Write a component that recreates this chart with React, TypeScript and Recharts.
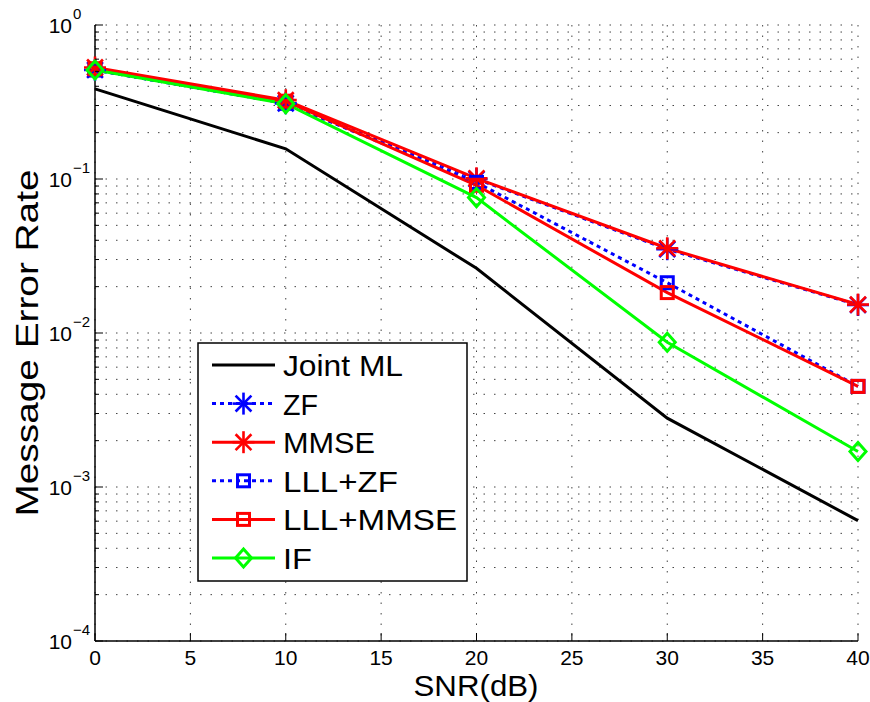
import { LineChart, Line, XAxis, YAxis, CartesianGrid } from 'recharts'

const snr = [0, 10, 20, 30, 40]
const jointML = [0.385, 0.157, 0.0263, 0.0028, 0.000605]
const zf = [0.51, 0.31, 0.1, 0.035, 0.0152]
const mmse = [0.53, 0.325, 0.101, 0.0355, 0.0153]
const lllZf = [0.51, 0.31, 0.095, 0.0212, 0.0045]
const lllMmse = [0.52, 0.32, 0.091, 0.0183, 0.0045]
const intForcing = [0.51, 0.308, 0.0757, 0.0087, 0.0017]

const xTicks = [0, 5, 10, 15, 20, 25, 30, 35, 40]
const decades = [-4, -3, -2, -1, 0]

// log ticks: decades plus 2..9 subdivisions
const yTicks: number[] = []
decades.forEach((e) => {
  yTicks.push(Number(Math.pow(10, e).toPrecision(1)))
  if (e < 0) for (let m = 2; m <= 9; m++) yTicks.push(Number((m * Math.pow(10, e)).toPrecision(1)))
})
yTicks.sort((a, b) => a - b)

const data = snr.map((s, i) => ({
  snr: s,
  jointML: jointML[i],
  zf: zf[i],
  mmse: mmse[i],
  lllZf: lllZf[i],
  lllMmse: lllMmse[i],
  intForcing: intForcing[i],
}))

const FONT = '"Liberation Sans", Arial, Helvetica, sans-serif'
const BLUE = '#0000ff'
const RED = '#ff0000'
const GREEN = '#00ff00'
const DOTTED = '4 4'

const isDecade = (v: number) => Math.abs(Math.log10(v) - Math.round(Math.log10(v))) < 1e-9

function Star({ cx, cy, color }: { cx: number; cy: number; color: string }) {
  const r = 11
  const d = r * 0.72
  return (
    <g stroke={color} strokeWidth={2.6} fill="none">
      <line x1={cx - r} y1={cy} x2={cx + r} y2={cy} />
      <line x1={cx} y1={cy - r} x2={cx} y2={cy + r} />
      <line x1={cx - d} y1={cy - d} x2={cx + d} y2={cy + d} />
      <line x1={cx - d} y1={cy + d} x2={cx + d} y2={cy - d} />
    </g>
  )
}

function Square({ cx, cy, color }: { cx: number; cy: number; color: string }) {
  return <rect x={cx - 6} y={cy - 6} width={12} height={12} stroke={color} strokeWidth={3} fill="none" />
}

function Diamond({ cx, cy, color }: { cx: number; cy: number; color: string }) {
  const r = 8
  return (
    <path
      d={`M${cx},${cy - r - 1}L${cx + r},${cy}L${cx},${cy + r + 1}L${cx - r},${cy}Z`}
      stroke={color}
      strokeWidth={3}
      fill="none"
    />
  )
}

const leftTick = (p: any) => {
  const { x, y, payload } = p
  const v = payload.value
  const major = isDecade(v)
  const exp = Math.round(Math.log10(v))
  return (
    <g>
      <line x1={x} y1={y} x2={x + (major ? 8 : 4)} y2={y} stroke="#000" strokeWidth={1} />
      {major && (
        <>
          <text x={x - 23} y={y + 8} textAnchor="end" fontSize={21} fontFamily={FONT} fill="#000">
            10
          </text>
          <text x={x - 22} y={y - 6} textAnchor="start" fontSize={15} fontFamily={FONT} fill="#000">
            {exp === 0 ? '0' : `\u2212${-exp}`}
          </text>
        </>
      )}
    </g>
  )
}

const rightTick = (p: any) => {
  const { x, y, payload } = p
  const major = isDecade(payload.value)
  return <line x1={x} y1={y} x2={x - (major ? 8 : 4)} y2={y} stroke="#000" strokeWidth={1} />
}

const bottomTick = (p: any) => {
  const { x, y, payload } = p
  return (
    <g>
      <line x1={x} y1={y} x2={x} y2={y - 8} stroke="#000" strokeWidth={1} />
      <text x={x} y={y + 24} textAnchor="middle" fontSize={21} fontFamily={FONT} fill="#000">
        {payload.value}
      </text>
    </g>
  )
}

const topTick = (p: any) => {
  const { x, y } = p
  return <line x1={x} y1={y} x2={x} y2={y + 8} stroke="#000" strokeWidth={1} />
}

const legendItems = [
  { name: 'Joint ML', color: '#000', dash: undefined, marker: null, len: 120 },
  { name: 'ZF', color: BLUE, dash: DOTTED, marker: 'star', len: 35 },
  { name: 'MMSE', color: RED, dash: undefined, marker: 'star', len: 92 },
  { name: 'LLL+ZF', color: BLUE, dash: DOTTED, marker: 'square', len: 115 },
  { name: 'LLL+MMSE', color: RED, dash: undefined, marker: 'square', len: 174 },
  { name: 'IF', color: GREEN, dash: undefined, marker: 'diamond', len: 29 },
]

function Overlay() {
  return (
    <svg width={870} height={702} style={{ position: 'absolute', left: 0, top: 0, pointerEvents: 'none' }}>
      <rect x={198} y={343} width={269} height={238} fill="#fff" stroke="#000" strokeWidth={1.5} />
      {legendItems.map((it, i) => {
        const cy = 365 + i * 38.6
        return (
          <g key={it.name}>
            <line x1={212} y1={cy} x2={275} y2={cy} stroke={it.color} strokeWidth={3} strokeDasharray={it.dash} />
            {it.marker === 'star' && <Star cx={243.5} cy={cy} color={it.color} />}
            {it.marker === 'square' && <Square cx={243.5} cy={cy} color={it.color} />}
            {it.marker === 'diamond' && <Diamond cx={243.5} cy={cy} color={it.color} />}
            <text
              x={283}
              y={cy + 11}
              fontFamily={FONT}
              fontSize={30}
              textLength={it.len}
              lengthAdjust="spacingAndGlyphs"
              fill="#000"
            >
              {it.name}
            </text>
          </g>
        )
      })}
      <text
        x={476}
        y={696}
        textAnchor="middle"
        fontFamily={FONT}
        fontSize={29}
        textLength={125}
        lengthAdjust="spacingAndGlyphs"
        fill="#000"
      >
        SNR(dB)
      </text>
      <text
        x={0}
        y={0}
        transform="translate(38,343) rotate(-90)"
        textAnchor="middle"
        fontFamily={FONT}
        fontSize={31}
        textLength={347}
        lengthAdjust="spacingAndGlyphs"
        fill="#000"
      >
        Message Error Rate
      </text>
    </svg>
  )
}

export default function App() {
  return (
    <div style={{ position: 'absolute', left: 0, top: 0, width: 870, height: 702, background: '#fff' }}>
      <LineChart width={870} height={702} data={data} margin={{ top: 25, right: 12, bottom: 0, left: 0 }}>
        <CartesianGrid stroke="#444" strokeDasharray="1.5 9" />
        <XAxis
          dataKey="snr"
          type="number"
          domain={[0, 40]}
          ticks={xTicks}
          interval={0}
          height={61}
          tickSize={0}
          tickMargin={0}
          tick={bottomTick}
          axisLine={{ stroke: '#000', strokeWidth: 1.5 }}
          tickLine={false}
        />
        <XAxis
          xAxisId="top"
          orientation="top"
          dataKey="snr"
          type="number"
          domain={[0, 40]}
          ticks={xTicks}
          interval={0}
          height={0}
          tickSize={0}
          tickMargin={0}
          tick={topTick}
          axisLine={{ stroke: '#000', strokeWidth: 1.5 }}
          tickLine={false}
        />
        <YAxis
          scale="log"
          type="number"
          domain={[1e-4, 1]}
          ticks={yTicks}
          interval={0}
          width={95}
          tickSize={0}
          tickMargin={0}
          tick={leftTick}
          allowDataOverflow
          axisLine={{ stroke: '#000', strokeWidth: 1.5 }}
          tickLine={false}
        />
        <YAxis
          yAxisId="right"
          orientation="right"
          scale="log"
          type="number"
          domain={[1e-4, 1]}
          ticks={yTicks}
          interval={0}
          width={0}
          tickSize={0}
          tickMargin={0}
          tick={rightTick}
          allowDataOverflow
          axisLine={{ stroke: '#000', strokeWidth: 1.5 }}
          tickLine={false}
        />
        <Line dataKey="jointML" stroke="#000" strokeWidth={3} dot={false} isAnimationActive={false} />
        <Line
          dataKey="zf"
          stroke={BLUE}
          strokeWidth={3}
          strokeDasharray={DOTTED}
          dot={(p: any) => <Star key={`zf${p.index}`} cx={p.cx} cy={p.cy} color={BLUE} />}
          isAnimationActive={false}
        />
        <Line
          dataKey="mmse"
          stroke={RED}
          strokeWidth={3}
          dot={(p: any) => <Star key={`mm${p.index}`} cx={p.cx} cy={p.cy} color={RED} />}
          isAnimationActive={false}
        />
        <Line
          dataKey="lllZf"
          stroke={BLUE}
          strokeWidth={3}
          strokeDasharray={DOTTED}
          dot={(p: any) => <Square key={`lz${p.index}`} cx={p.cx} cy={p.cy} color={BLUE} />}
          isAnimationActive={false}
        />
        <Line
          dataKey="lllMmse"
          stroke={RED}
          strokeWidth={3}
          dot={(p: any) => <Square key={`lm${p.index}`} cx={p.cx} cy={p.cy} color={RED} />}
          isAnimationActive={false}
        />
        <Line
          dataKey="intForcing"
          stroke={GREEN}
          strokeWidth={3}
          dot={(p: any) => <Diamond key={`if${p.index}`} cx={p.cx} cy={p.cy} color={GREEN} />}
          isAnimationActive={false}
        />
      </LineChart>
      <Overlay />
    </div>
  )
}
